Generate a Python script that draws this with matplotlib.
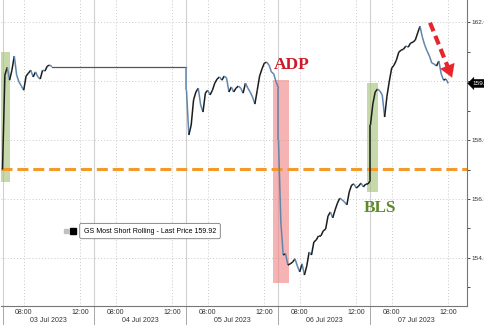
import numpy as np
import matplotlib
matplotlib.use("Agg")
import matplotlib.pyplot as plt
from matplotlib.collections import LineCollection
import matplotlib.transforms as mtransforms

# ---------------- data ----------------
# session 06:30-13:00 (6.5 h); values sampled every 10 minutes
days = ["03 Jul 2023", "04 Jul 2023", "05 Jul 2023", "06 Jul 2023", "07 Jul 2023"]
session_hours = 6.5
step_min = 10

jul03 = [157.00, 160.20, 160.47, 160.03, 160.37, 160.85, 160.20, 159.97, 159.83, 159.69,
         160.17, 160.27, 160.37, 160.14, 160.31, 160.14, 160.07, 160.37, 160.34, 160.51,
         160.54, 160.49]
jul04_flat = 160.49  # holiday: last price carried
jul05 = [159.69, 158.17, 158.51, 159.36, 159.63, 159.76, 159.19, 158.95, 159.59, 159.69,
         159.53, 159.69, 159.93, 160.07, 160.14, 160.03, 160.17, 160.10, 159.63, 159.80,
         159.63, 159.76, 159.83, 159.76, 159.59, 159.93, 159.76, 159.63, 159.46, 159.22,
         159.69, 160.17, 160.41, 160.61, 160.64, 160.54, 160.31, 160.24, 159.97, 159.76]
jul06 = [158.00, 155.22, 154.10, 154.14, 153.76, 153.80, 153.86, 153.97, 153.73, 153.53,
         153.80, 153.42, 153.73, 154.20, 154.10, 154.54, 154.61, 154.75, 154.75, 154.92,
         154.98, 155.42, 155.56, 155.36, 155.63, 155.86, 156.03, 155.97, 155.90, 155.80,
         156.24, 156.47, 156.51, 156.37, 156.44, 156.54, 156.41, 156.51, 156.51, 156.64]
jul07 = [158.51, 159.22, 159.63, 159.73, 159.66, 159.53, 158.78, 159.49, 160.00, 160.44,
         160.54, 160.71, 160.98, 161.05, 161.08, 161.19, 161.15, 161.29, 161.32, 161.39,
         161.63, 161.86, 161.49, 161.22, 161.02, 160.85, 160.61, 160.58, 160.51, 160.68,
         160.24, 160.03, 160.07, 159.92]
last_price = 159.92
ref_level = 157.03
series_name = "GS Most Short Rolling - Last Price"

yticks_major = [154, 156, 158, 160, 162]
yticks_minor = [153, 155, 157, 159, 161]
time_ticks = [("08:00", 1.5), ("12:00", 5.5)]  # hours after 06:30 session open

adp_box = (19.1, 20.25, 153.15, 160.03)   # t0, t1, low, high
bls_box = (25.75, 26.55, 156.25, 159.94)
open_box = (-0.2, 0.53, 156.58, 160.98)

# ---------------- helpers ----------------
def day_times(day_idx, n):
    return day_idx * session_hours + np.arange(n) * step_min / 60.0

segments_t = []
segments_v = []
for idx, vals in [(0, jul03), (2, jul05), (3, jul06), (4, jul07)]:
    segments_t.append(day_times(idx, len(vals)))
    segments_v.append(np.array(vals))

# ---------------- figure ----------------
fig = plt.figure(figsize=(4.85, 3.25), dpi=100)
ax = fig.add_axes([1 / 485, 19 / 325, 465.7 / 485, 306 / 325])
ax.set_xlim(-0.106, 32.8)
ax.set_ylim(152.37, 162.75)

# grids
for v in yticks_major:
    ax.axhline(v, color="#c8c8c8", lw=0.7, ls=(0, (1, 2.2)), zorder=0)
for d in range(len(days)):
    for _, h in time_ticks:
        ax.axvline(d * session_hours + h, color="#c8c8c8", lw=0.7, ls=(0, (1, 2.2)), zorder=0)
    ax.axvline(d * session_hours, color="#d0d0d0", lw=0.8, zorder=0)

# shaded boxes
for (t0, t1, lo, hi), col in [(open_box, "#a9c47f"), (adp_box, "#f08a8a"), (bls_box, "#a9c47f")]:
    ax.fill_between([t0, t1], lo, hi, color=col, alpha=0.65, lw=0, zorder=1)

# reference orange dashed line
ax.axhline(ref_level, color="#f39a2b", lw=2.2, ls=(0, (3.6, 1.6)), zorder=2)

# holiday carry line
t_end0 = segments_t[0][-1]
t_start2 = segments_t[1][0]
ax.plot([t_end0, t_start2], [jul04_flat, jul04_flat], color="#555555", lw=0.9, zorder=3)

# price line: concatenate all, colour segments by direction
all_t = np.concatenate([segments_t[0], [t_start2], segments_t[1], segments_t[2], segments_t[3]])
all_v = np.concatenate([segments_v[0], [jul04_flat], segments_v[1], segments_v[2], segments_v[3]])
pts = np.column_stack([all_t, all_v])
segs = np.stack([pts[:-1], pts[1:]], axis=1)
colors = []
keep = []
for s in segs:
    if s[1, 0] - s[0, 0] > 1.0:
        continue  # holiday stretch drawn separately
    keep.append(s)
    colors.append("#1c1c1c" if s[1, 1] >= s[0, 1] else "#5f86ad")
lc = LineCollection(keep, colors=colors, linewidths=1.1, zorder=4)
ax.add_collection(lc)

# annotations
ax.text(19.2, 160.55, "ADP", color="#cc1a2a", fontsize=12.5, fontweight="bold",
        family="Liberation Serif", ha="left", va="center", zorder=5)
ax.text(25.55, 155.7, "BLS", color="#5f8a2a", fontsize=12.3, fontweight="bold",
        family="Liberation Serif", ha="left", va="center", zorder=5)

# red dashed arrow
arr_start = (30.21, 161.98)
arr_end = (31.84, 160.03)
frac = 0.80
mid = (arr_start[0] + frac * (arr_end[0] - arr_start[0]), arr_start[1] + frac * (arr_end[1] - arr_start[1]))
ax.plot([arr_start[0], mid[0]], [arr_start[1], mid[1]], color="#e8242c", lw=3.0,
        ls=(0, (2.2, 1.2)), solid_capstyle="butt", zorder=5)
ax.annotate("", xy=arr_end, xytext=mid,
            arrowprops=dict(arrowstyle="-|>,head_length=0.9,head_width=0.55", color="#e8242c", lw=0.1),
            zorder=5)

# legend box
leg_y = 0.245
leg_text = f"{series_name} {last_price:.2f}"
ax.text(0.178, leg_y, leg_text, transform=ax.transAxes, fontsize=5.0, family="Liberation Sans",
        ha="left", va="center", zorder=6,
        bbox=dict(boxstyle="round,pad=0.6,rounding_size=0.25", fc="white", ec="#777777", lw=0.6))
ax.plot([0.140], [leg_y], transform=ax.transAxes, marker="s", ms=2.6, color="#c0c0c0",
        ls="none", zorder=7, clip_on=False)
ax.plot([0.155], [leg_y], transform=ax.transAxes, marker="s", ms=4.2, color="black",
        ls="none", zorder=7, clip_on=False)

# spines
ax.spines["top"].set_visible(False)
ax.spines["left"].set_visible(False)
ax.spines["right"].set_color("#777777")
ax.spines["bottom"].set_color("#777777")
ax.spines["right"].set_linewidth(0.8)
ax.spines["bottom"].set_linewidth(0.8)

# y axis on right (the 160 label sits under the last-price tag)
ax.yaxis.tick_right()
ax.set_yticks(yticks_major)
ax.set_yticklabels(["" if abs(v - last_price) < 0.5 else f"{v:.1f}" for v in yticks_major])
ax.set_yticks(yticks_minor, minor=True)
ax.tick_params(axis="y", which="both", direction="out", length=2.5, width=0.6, colors="#333333",
               labelsize=4.6, pad=1.2)
for lbl in ax.get_yticklabels():
    lbl.set_family("Liberation Sans")

# last price tag
trans = mtransforms.blended_transform_factory(ax.transAxes, ax.transData)
ax.text(1.012, last_price, f"{last_price:.1f}", transform=trans, color="white", fontsize=4.6,
        family="Liberation Sans", ha="left", va="center", zorder=8, clip_on=False,
        bbox=dict(boxstyle="larrow,pad=0.25", fc="black", ec="black", lw=0.3))

# x ticks
xt, xl = [], []
for d in range(len(days)):
    for lab, h in time_ticks:
        xt.append(d * session_hours + h)
        xl.append(lab)
ax.set_xticks(xt)
ax.set_xticklabels(xl)
ax.set_xticks([d * session_hours for d in range(len(days))], minor=True)
ax.tick_params(axis="x", which="major", length=0, labelsize=5.0, pad=2.5, colors="#333333")
ax.tick_params(axis="x", which="minor", length=14, width=0.6, color="#999999")
for lbl in ax.get_xticklabels():
    lbl.set_family("Liberation Sans")

xtrans = mtransforms.blended_transform_factory(ax.transData, fig.transFigure)
for d, name in enumerate(days):
    fig.text(d * session_hours + session_hours / 2, 4 / 325, name, transform=xtrans,
             fontsize=5.0, family="Liberation Sans", color="#333333", ha="center", va="center")

fig.savefig("out.png", dpi=100)
